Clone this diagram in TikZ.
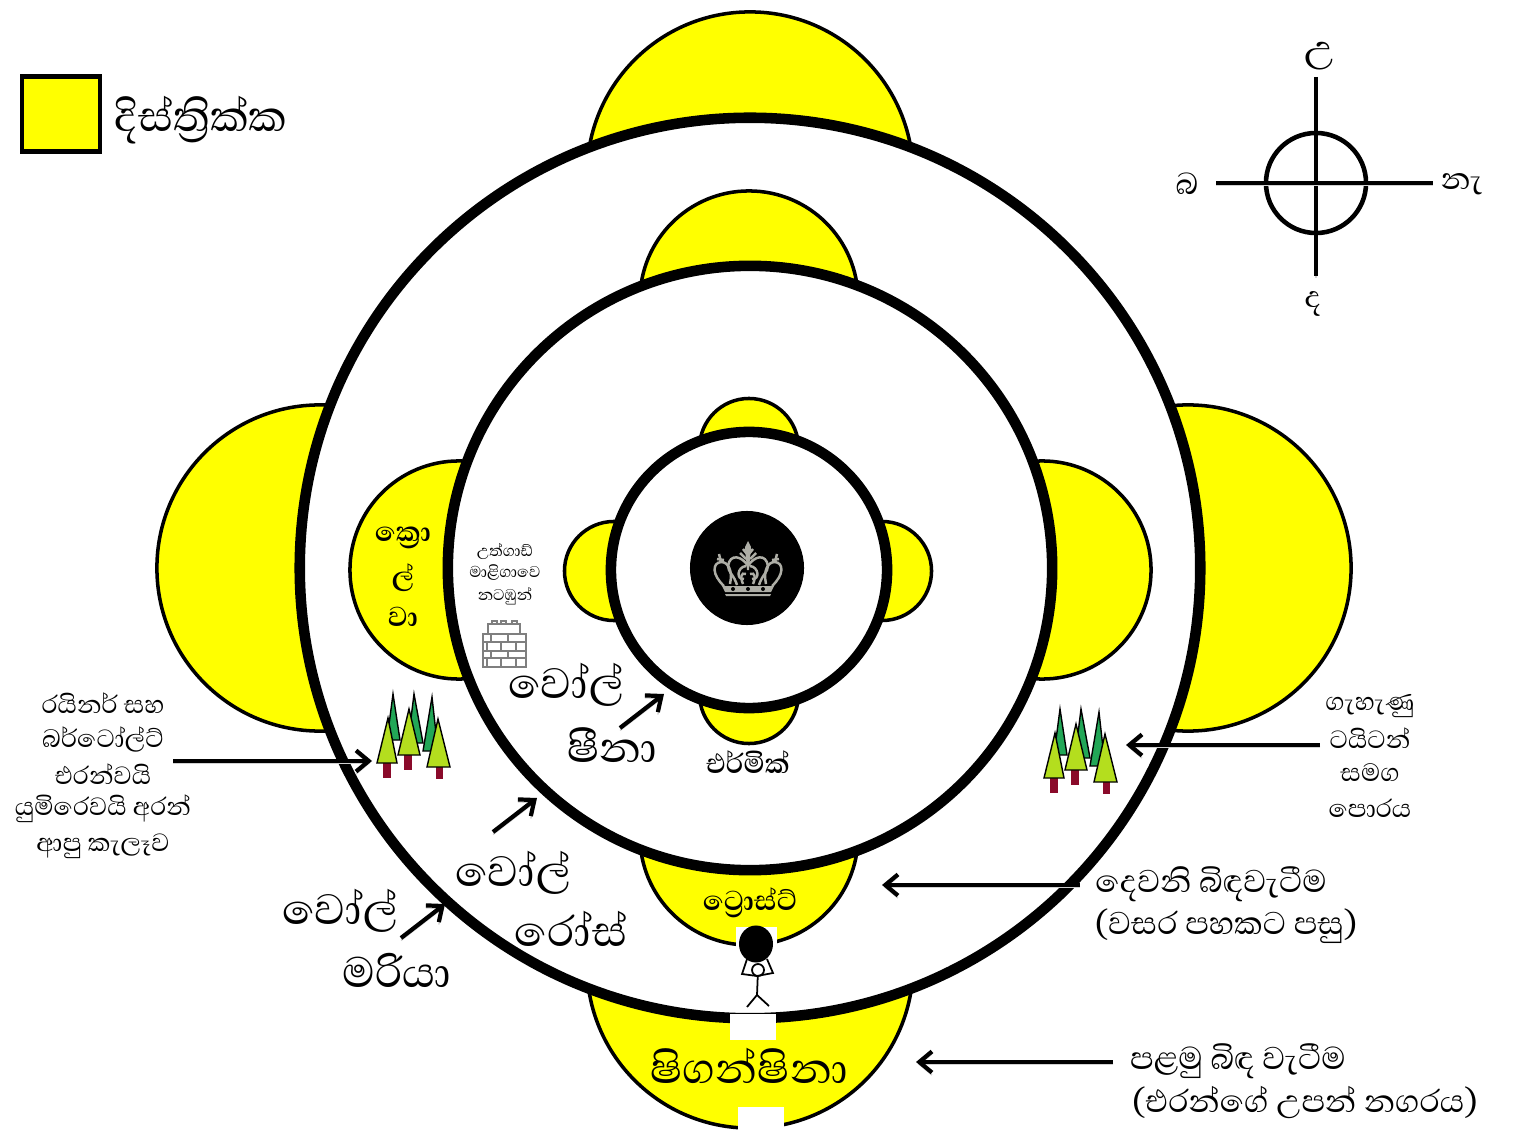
\documentclass[tikz,border=0pt]{standalone}
\usepackage{fontspec}
\setmainfont[Script=Sinhala]{Abhaya Libre}
\usetikzlibrary{arrows.meta,shapes.geometric}
\definecolor{districtYellow}{HTML}{FFFF00}
\definecolor{pineDark}{HTML}{22A757}
\definecolor{pineLight}{HTML}{B4DE1E}
\definecolor{pineTrunk}{HTML}{8A0A2A}
\definecolor{crownGrey}{HTML}{AEAEA6}
\definecolor{brickGrey}{HTML}{7F7F7F}
\newcommand{\textsized}[1]{\fontsize{#1}{#1}\selectfont}

\begin{document}
\begin{tikzpicture}
[x=0.01cm,y=-0.01cm,%
  softShadow/.style={preaction={draw=black!18,transform canvas={yshift=-0.7pt}}},%
  arrowDecorate/.style={-{Straight Barb[length=3.6pt,width=6pt]},line width=1.2pt,softShadow},%
  compassDecorate/.style={line width=1.3pt,softShadow},%
  districtDecorate/.style={shape=circle,inner sep=0pt,draw,line width=1pt,fill=districtYellow},%
  wallDecorate/.style={shape=circle,inner sep=0pt,draw,line width=3pt,fill=white},%
  gapDecorate/.style={shape=rectangle,inner sep=0pt,fill=white},%
  hugeLabel/.style={inner sep=0pt,font=\textsized{15.5}},%
  bigLabel/.style={inner sep=0pt,font=\textsized{11.5}},%
  boldLabel/.style={inner sep=0pt,font=\textsized{10}\bfseries},%
  sideLabel/.style={inner sep=0pt,align=center,font=\textsized{9.1}},%
  smallLabel/.style={inner sep=0pt,font=\textsized{5.7}},%
  compassLabel/.style={inner sep=0pt,font=\textsized{11}}]
\useasboundingbox (0,0) rectangle (1515,1146);
%% legend
\node (legendBox) at (61,114) [shape=rectangle,inner sep=0pt,draw,line width=1.2pt,fill=districtYellow,
  minimum width=0.78cm,minimum height=0.75cm] {};
\node (legendText) at (201,120) [hugeLabel] {දිස්ත්^^^^200dරික්ක};
%% districts and walls, from the outside in
\foreach \nodename/\x/\y/\size in {shiganshina/750/965/3.26cm, north/750/175/3.26cm, west/320/568/3.26cm, east/1188/568/3.26cm}
{
  \node (\nodename) at (\x,\y) [districtDecorate,minimum size=\size] {};
}
\node (wallMaria) at (750,568) [wallDecorate,minimum size=9cm] {};
\foreach \nodename/\x/\y/\size in {trost/749/836/2.18cm, innerNorth/749/300/2.18cm, krolva/459/570/2.18cm, innerEast/1042/570/2.18cm}
{
  \node (\nodename) at (\x,\y) [districtDecorate,minimum size=\size] {};
}
\node (wallRose) at (750,568) [wallDecorate,minimum size=6.04cm] {};
\foreach \nodename/\x/\y/\size in {ermich/749/694/0.99cm, topNorth/749/448/0.99cm, stohess/614/571/0.99cm, topEast/882/571/0.99cm}
{
  \node (\nodename) at (\x,\y) [districtDecorate,minimum size=\size] {};
}
\node (wallSheena) at (749,570) [wallDecorate,minimum size=2.76cm] {};
%% breaches
\foreach \nodename/\x/\y/\w/\h in {gapMaria/753/1027/0.46cm/0.26cm, gapOuter/761/1120/0.46cm/0.26cm, gapTrost/756.5/950/0.4cm/0.46cm}
{
  \node (\nodename) at (\x,\y) [gapDecorate,minimum width=\w,minimum height=\h] {};
}
%% royal crown
\node (royal) at (747,568) [shape=circle,inner sep=0pt,fill=black,minimum size=1.14cm] {};
\foreach \side in {1,-1}
{
  \begin{scope}[shift={(748,0)},xscale=\side,draw=crownGrey,line width=0.7pt]
    \draw (-24,586) .. controls (-36,575) and (-36,563) .. (-27,562) .. controls (-20,562) and (-15,570) .. (-18,584);
    \draw (0,566) .. controls (-6,556) and (-18,553) .. (-20,566) .. controls (-20,572) and (-14,575) .. (-11,585);
    \draw (-2,566) .. controls (-11,567) and (-12,580) .. (-4,579);
    \draw (-2,574) .. controls (-7,572) and (-8,577) .. (-5,584);
    \draw (-27,562) -- (-29,554);
    \draw (-31,559) -- (-24,560);
    \draw (-2,559) -- (-8,553);
    \draw (-1,554) -- (-5,549);
  \end{scope}
}
\fill[crownGrey] (748,541) -- (751,547) -- (749,570) -- (747,570) -- (745,547) -- cycle;
\fill[crownGrey] (722,586) -- (774,586) -- (771,592) -- (725,592) -- cycle;
\fill[crownGrey] (725,594) -- (771,594) -- (770,596) -- (726,596) -- cycle;
\foreach \x in {733,748,763}
{
  \fill[black] (\x,589) circle (2);
}
%% ruined castle
\draw[brickGrey,line width=0.3pt,fill=white] (483,634) rectangle (526,667);
\draw[brickGrey,line width=0.3pt,fill=white] (488,624) rectangle (520,634);
\foreach \x in {492,501,512}
{
  \draw[brickGrey,line width=0.3pt] (\x,624) rectangle (\x+5,621);
}
\foreach \y in {642,651,658}
{
  \draw[brickGrey,line width=0.3pt] (483,\y) -- (526,\y);
}
\foreach \xa/\xb/\ya/\yb in {491/508/634/642, 487/501/642/651, 491/508/651/658, 487/501/658/667}
{
  \draw[brickGrey,line width=0.3pt] (\xa,\ya) -- (\xa,\yb) (\xb,\ya) -- (\xb,\yb);
}
\foreach \x/\ya/\yb in {516/642/651, 516/658/667}
{
  \draw[brickGrey,line width=0.3pt] (\x,\ya) -- (\x,\yb);
}
%% forests
\foreach \dx/\dy in {0/0, 667/15}
{
  \begin{scope}[shift={(\dx,\dy)},draw=black,line width=0.4pt]
    \foreach \ax/\ay/\bl/\br/\by in {393/694/387/400/740, 414/694/408/423/743, 432/697/423/438/751}
    {
      \draw[fill=pineDark] (\ax,\ay) -- (\br,\by) -- (\bl,\by) -- cycle;
    }
    \foreach \ax/\ay/\bl/\br/\by/\tl/\tr/\te in {388/718/377/397/763/383/391/778, 409/709/398/420/755/404/412/770, 438/719/427/450/767/436/443/779}
    {
      \fill[pineTrunk] (\tl,\by) rectangle (\tr,\te);
      \draw[fill=pineLight] (\ax,\ay) -- (\br,\by) -- (\bl,\by) -- cycle;
    }
  \end{scope}
}
%% rock bearer
\node (boulder) at (756,944) [shape=ellipse,inner sep=0pt,fill=black,minimum width=0.34cm,minimum height=0.37cm] {};
\node (bearerHead) at (758,970) [shape=circle,inner sep=0pt,draw,line width=0.5pt,fill=white,minimum size=0.12cm] {};
\foreach \nodename/\x/\y in {hip/757/995, footLeft/747/1007, footRight/769/1006, handLeft/747/959, handRight/767/959, elbowLeft/742/974, elbowRight/773/973, neck/757/976}
{
  \coordinate (\nodename) at (\x,\y);
}
\draw[line width=0.5pt] (bearerHead) -- (hip) -- (footLeft) (hip) -- (footRight)
  (handLeft) -- (elbowLeft) -- (neck) -- (elbowRight) -- (handRight);
%% labels
\foreach \nodename/\x/\y/\txt in {wallSheenaTop/566/685/වෝල්, wallSheenaBottom/612/745/ෂීනා, wallRoseTop/513/873/වෝල්, wallRoseBottom/571/929/රෝස්, wallMariaTop/340/911/වෝල්, wallMariaBottom/397/970/මරියා, firstCity/749/1066/ෂිගන්ෂිනා}
{
  \node (\nodename) at (\x,\y) [hugeLabel] {\txt};
}
\foreach \nodename/\x/\y/\txt in {firstA/1238/1061/පළමු බිඳ වැටීම, firstB/1305/1102/(එරන්ගේ උපන් නගරය), secondA/1211/884/දෙවනි බිඳවැටීම, secondB/1226/926/(වසර පහකට පසු)}
{
  \node (\nodename) at (\x,\y) [bigLabel] {\txt};
}
\foreach \nodename/\x/\y/\txt in {ermichText/748/762/එර්මික්, trostText/750/903/ට්^^^^200dරොස්ට්, krolvaA/403/538/ක්^^^^200dරො, krolvaB/403/578/ල්, krolvaC/403/617/වා}
{
  \node (\nodename) at (\x,\y) [boldLabel] {\txt};
}
\foreach \nodename/\x/\y/\txt in {leftA/103/703/රයිනර් සහ, leftB/103/739/බර්ටෝල්ට්, leftC/103/774/එරන්වයි, leftD/103/809/යුමිරෙවයි අරන්, leftE/103/846/ආපු කැලෑව, rightA/1370/706/ගැහැණු, rightB/1370/738/ටයිටන්, rightC/1370/773/සමග, rightD/1370/808/පොරය}
{
  \node (\nodename) at (\x,\y) [sideLabel] {\txt};
}
\foreach \nodename/\x/\y/\txt in {ruinA/505/552/උත්ගාඩ්, ruinB/505/573/මාළිගාවෙ, ruinC/505/596/නටඹුන්}
{
  \node (\nodename) at (\x,\y) [smallLabel] {\txt};
}
%% arrows
\foreach \nodename/\x/\y in {a1/173/761, a2/372/761, b1/1320/745, b2/1126/745, c1/1080/885, c2/882/885, d1/1113/1062, d2/916/1062, e1/620/728, e2/664/694, f1/493/832, f2/537/798, g1/401/938, g2/445/904}
{
  \coordinate (\nodename) at (\x,\y);
}
\foreach \startnode/\endnode in {a1/a2, b1/b2, c1/c2, d1/d2, e1/e2, f1/f2, g1/g2}
{
  \draw[arrowDecorate] (\startnode) -- (\endnode);
}
%% compass
\node (compassRing) at (1316,183) [shape=circle,inner sep=0pt,draw,line width=1.3pt,minimum size=1cm] {};
\foreach \nodename/\x/\y in {north1/1316/77, south1/1316/276, west1/1216/183, east1/1433/183}
{
  \coordinate (\nodename) at (\x,\y);
}
\draw[compassDecorate] (north1) -- (south1);
\draw[compassDecorate] (west1) -- (east1);
\node (northText) at (1320,56) [compassLabel,font=\textsized{14}] {උ};
\foreach \nodename/\x/\y/\txt in {westText/1187/184/බ, eastText/1462/184/නැ, southText/1313/304/ද}
{
  \node (\nodename) at (\x,\y) [compassLabel] {\txt};
}
\end{tikzpicture}
\end{document}
